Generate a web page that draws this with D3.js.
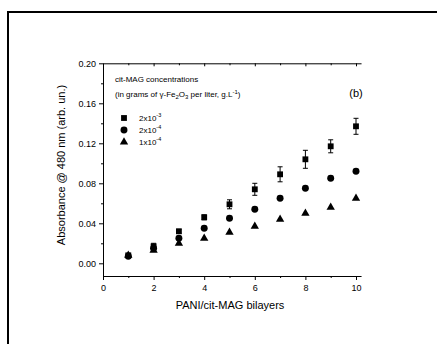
<!DOCTYPE html>
<html>
<head>
<meta charset="utf-8">
<script src="https://cdn.jsdelivr.net/npm/d3@7"></script>
<style>
html,body{margin:0;padding:0;background:#fff;}
text{font-family:"Liberation Sans",Arial,sans-serif;fill:#000;}
</style>
</head>
<body>
<svg id="c" width="437" height="344"></svg>
<script>
const bilayers = [1,2,3,4,5,6,7,8,9,10];
const sq2e3 = [0.008,0.017,0.032,0.046,0.059,0.074,0.089,0.104,0.117,0.137];
const sq2e3Err = [0.0015,0.003,0.002,0.0025,0.0045,0.006,0.0075,0.009,0.0065,0.008];
const ci2e4 = [0.007,0.015,0.025,0.035,0.045,0.054,0.065,0.075,0.085,0.092];
const tr1e4 = [0.008,0.013,0.020,0.025,0.031,0.037,0.044,0.050,0.056,0.065];
const xTicks = [0,2,4,6,8,10];
const yTicks = [0.00,0.04,0.08,0.12,0.16,0.20];

const svg = d3.select("#c");
// outer frame (top and left edges visible)
svg.append("rect").attr("x",8).attr("y",12).attr("width",500).attr("height",400)
  .attr("fill","none").attr("stroke","#000").attr("stroke-width",2);

const L=103, R=361, T=63.3, B=276;
const x = d3.scaleLinear().domain([0,10.2]).range([L,L+25.3*10.2]);
const y = d3.scaleLinear().domain([-0.0127,0.20]).range([B,T]);

const g = svg.append("g");
// axes
const xAxis = d3.axisBottom(x).tickValues(xTicks).tickFormat(d3.format("d")).tickSize(4).tickSizeOuter(0);
const gx = g.append("g").attr("transform",`translate(0,${B})`).call(xAxis);
gx.selectAll("text").attr("font-size",9).attr("dy","0.9em");
g.append("g").attr("transform",`translate(0,${B})`).call(d3.axisBottom(x).tickValues([1,3,5,7,9]).tickFormat("").tickSize(2).tickSizeOuter(0)).select(".domain").remove();
const gt = g.append("g").attr("transform",`translate(0,${T})`).call(d3.axisBottom(x).tickValues(xTicks).tickFormat("").tickSize(3).tickSizeOuter(0));
g.append("g").attr("transform",`translate(0,${T})`).call(d3.axisBottom(x).tickValues([1,3,5,7,9]).tickFormat("").tickSize(2).tickSizeOuter(0)).select(".domain").remove();

const yAxis = d3.axisLeft(y).tickValues(yTicks).tickFormat(d3.format(".2f")).tickSize(4).tickSizeOuter(0);
const gy = g.append("g").attr("transform",`translate(${L},0)`).call(yAxis);
gy.selectAll("text").attr("font-size",9);
g.append("g").attr("transform",`translate(${L},0)`).call(d3.axisLeft(y).tickValues([0.02,0.06,0.10,0.14,0.18]).tickFormat("").tickSize(2).tickSizeOuter(0)).select(".domain").remove();
g.selectAll(".domain").attr("stroke-width",1);
g.selectAll(".tick line").attr("stroke-width",1);

// titles
svg.append("text").attr("x",230).attr("y",309).attr("text-anchor","middle").attr("font-size",11).text("PANI/cit-MAG bilayers");
svg.append("text").attr("transform","translate(65,165) rotate(-90)").attr("text-anchor","middle").attr("font-size",11).text("Absorbance @ 480 nm (arb. un.)");
svg.append("text").attr("x",356).attr("y",97).attr("text-anchor","middle").attr("font-size",11).text("(b)");

// legend header
svg.append("text").attr("x",115).attr("y",82).attr("font-size",8).text("cit-MAG concentrations");
const hdr = svg.append("text").attr("x",115).attr("y",97).attr("font-size",8);
hdr.append("tspan").text("(in grams of ");
hdr.append("tspan").text("γ");
hdr.append("tspan").text("-Fe");
hdr.append("tspan").attr("font-size",6).attr("dy",2).text("2");
hdr.append("tspan").attr("dy",-2).text("O");
hdr.append("tspan").attr("font-size",6).attr("dy",2).text("3");
hdr.append("tspan").attr("dy",-2).text(" per liter, g.L");
hdr.append("tspan").attr("font-size",6).attr("dy",-3).text("-1");
hdr.append("tspan").attr("dy",3).text(")");

const legendItems = [
  {sym:d3.symbolSquare, size:34, base:"2x10", exp:"-3"},
  {sym:d3.symbolCircle, size:38, base:"2x10", exp:"-4"},
  {sym:d3.symbolTriangle, size:30, base:"1x10", exp:"-4"}
];
legendItems.forEach((it,i)=>{
  const yy = 118 + i*12;
  svg.append("path").attr("d",d3.symbol(it.sym,it.size)()).attr("transform",`translate(124,${yy})`).attr("fill","#000");
  const t = svg.append("text").attr("x",139).attr("y",yy+3).attr("font-size",8);
  t.append("tspan").text(it.base);
  t.append("tspan").attr("font-size",5.5).attr("dy",-4).text(it.exp);
});

// error bars
const eb = svg.append("g").attr("stroke","#000").attr("stroke-width",1);
bilayers.forEach((b,i)=>{
  const cx = x(b), y1 = y(sq2e3[i]-sq2e3Err[i]), y2 = y(sq2e3[i]+sq2e3Err[i]);
  eb.append("line").attr("x1",cx).attr("x2",cx).attr("y1",y1).attr("y2",y2);
  eb.append("line").attr("x1",cx-2.5).attr("x2",cx+2.5).attr("y1",y1).attr("y2",y1);
  eb.append("line").attr("x1",cx-2.5).attr("x2",cx+2.5).attr("y1",y2).attr("y2",y2);
});

function drawSeries(vals, sym, size){
  svg.append("g").selectAll("path").data(vals).join("path")
    .attr("d",d3.symbol(sym,size)())
    .attr("transform",(d,i)=>`translate(${x(bilayers[i])},${y(d)})`)
    .attr("fill","#000");
}
drawSeries(tr1e4, d3.symbolTriangle, 30);
drawSeries(ci2e4, d3.symbolCircle, 38);
drawSeries(sq2e3, d3.symbolSquare, 34);
</script>
</body>
</html>
